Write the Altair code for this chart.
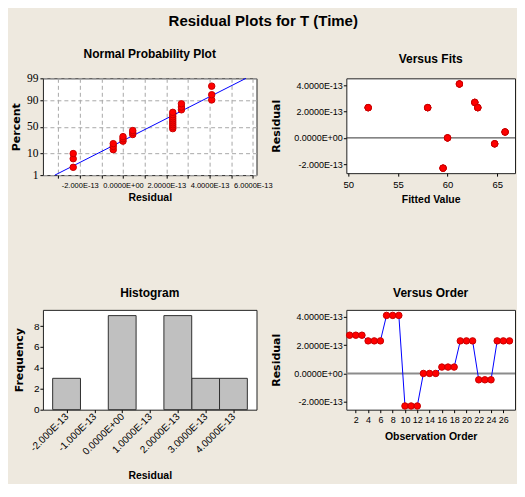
import altair as alt
import pandas as pd
from statistics import NormalDist

# ---------------- data ----------------
observation = list(range(1, 28))
residual = [2.7e-13, 2.7e-13, 2.7e-13, 2.3e-13, 2.3e-13, 2.3e-13,
            4.1e-13, 4.1e-13, 4.1e-13, -2.3e-13, -2.3e-13, -2.3e-13,
            0.0, 0.0, 0.0, 0.45e-13, 0.45e-13, 0.45e-13,
            2.3e-13, 2.3e-13, 2.3e-13, -0.45e-13, -0.45e-13, -0.45e-13,
            2.3e-13, 2.3e-13, 2.3e-13]
fitted = [62.75, 62.75, 62.75, 52.0, 52.0, 52.0,
          61.2, 61.2, 61.2, 59.55, 59.55, 59.55,
          60.0, 60.0, 60.0, 65.8, 65.8, 65.8,
          58.0, 58.0, 58.0, 64.75, 64.75, 64.75,
          63.05, 63.05, 63.05]

percent_ticks = [1, 10, 50, 90, 99]
np_grid_values = [-3e-13, -2e-13, -1e-13, 0.0, 1e-13, 2e-13, 3e-13, 4e-13, 5e-13, 6e-13]
np_grid_labels = ["", "-2.000E-13", "", "0.0000E+00", "", "2.0000E-13", "", "4.0000E-13", "", "6.0000E-13"]
res_tick_values = [-2e-13, 0.0, 2e-13, 4e-13]
res_tick_labels = ["-2.000E-13", "0.0000E+00", "2.0000E-13", "4.0000E-13"]
hist_tick_values = [-2e-13, -1e-13, 0.0, 1e-13, 2e-13, 3e-13, 4e-13]
hist_tick_labels = ["-2.000E-13", "-1.000E-13", "0.0000E+00", "1.0000E-13",
                    "2.0000E-13", "3.0000E-13", "4.0000E-13"]
fit_ticks = [50, 55, 60, 65]
order_ticks = [2, 4, 6, 8, 10, 12, 14, 16, 18, 20, 22, 24, 26]
freq_ticks = [0, 2, 4, 6, 8]

df = pd.DataFrame({"observation": observation, "residual": residual, "fitted": fitted})
zero_df = pd.DataFrame({"y": [0.0]})

# ---------------- style ----------------
BG = "#EEE9DF"
SANS = "Liberation Sans"
WIDE_B = "DejaVu Sans"
RED = "#FF0000"
RED_EDGE = "#C80000"
BLUE = "#0000FF"

nd = NormalDist()
z_ticks = [nd.inv_cdf(p / 100) for p in percent_ticks]
z_lo, z_hi = z_ticks[0], z_ticks[-1]


def js_array(lst):
    return "[" + ",".join("'" + s + "'" for s in lst) + "]"


def axis_common(**kw):
    base = dict(domain=False, tickColor="#000", tickSize=3, labelColor="#000",
                titleColor="#000", labelFont=SANS, titleFont=SANS,
                titleFontWeight="bold", grid=False, labelOverlap=False)
    base.update(kw)
    return alt.Axis(**base)


def ytitle_axis(**kw):
    return axis_common(titleFont=WIDE_B, titleFontSize=11, **kw)


def sub_title(text, offset):
    return alt.TitleParams(text, font=SANS, fontSize=12, fontWeight="bold",
                           anchor="middle", frame="group", offset=offset, color="#000")


# ---------------- Normal probability plot ----------------
np_x_scale = alt.Scale(domain=[-3.7e-13, 6.17e-13], nice=False, zero=False)
np_y_scale = alt.Scale(domain=[z_lo, z_hi], nice=False, zero=False)

np_x_axis = axis_common(values=np_grid_values,
                        labelExpr=js_array(np_grid_labels) + "[round(datum.value*1e13)+3]",
                        labelFontSize=7.5, labelPadding=3, titleFontSize=10.5, titlePadding=4,
                        grid=True, gridDash=[4, 3], gridColor="#A8A8A8", labelFlush=False)
np_y_axis = ytitle_axis(values=z_ticks,
                        labelExpr="format(cumulativeNormal(datum.value)*100, '.0f')",
                        labelFont="Liberation Serif", labelFontSize=11.5, labelPadding=2,
                        titlePadding=5, grid=True, gridDash=[4, 3], gridColor="#A8A8A8")
np_x = alt.X("residual:Q", scale=np_x_scale, axis=np_x_axis, title="Residual")
np_y = alt.Y("z:Q", scale=np_y_scale, axis=np_y_axis, title="Percent")

np_points = alt.Chart(df).transform_window(
    rank="row_number()", sort=[alt.SortField("residual")]
).transform_joinaggregate(n="count()").transform_calculate(
    z="quantileNormal((datum.rank - 0.3) / (datum.n + 0.4))"
).mark_circle(size=42, color=RED, stroke=RED_EDGE, strokeWidth=1, opacity=1).encode(
    x=np_x, y=np_y,
)

np_line = alt.Chart(df).transform_aggregate(
    m="mean(residual)", s="stdev(residual)"
).transform_calculate(
    zlo=f"quantileNormal({percent_ticks[0] / 100})",
    zhi=f"quantileNormal({percent_ticks[-1] / 100})",
).transform_calculate(
    xlo="datum.m + datum.zlo * datum.s",
    xhi="datum.m + datum.zhi * datum.s",
).mark_rule(color=BLUE, strokeWidth=1).encode(
    x=alt.X("xlo:Q", scale=np_x_scale, axis=np_x_axis, title="Residual"),
    x2="xhi:Q",
    y=alt.Y("zlo:Q", scale=np_y_scale, axis=np_y_axis, title="Percent"),
    y2="zhi:Q",
)

np_chart = alt.layer(np_line, np_points).properties(
    width=214, height=97, title=sub_title("Normal Probability Plot", 11))

# ---------------- Versus fits ----------------
res_label_expr = js_array(res_tick_labels) + "[round(datum.value*1e13/2)+1]"

fits_y_scale = alt.Scale(domain=[-2.68e-13, 4.53e-13], nice=False, zero=False)
fits_x_scale = alt.Scale(domain=[49.8, 66.8], nice=False, zero=False)
fits_y_axis = ytitle_axis(values=res_tick_values, labelExpr=res_label_expr, labelFontSize=9,
                          labelPadding=1, titlePadding=12)

fits_points = alt.Chart(df).mark_circle(size=42, color=RED, stroke=RED_EDGE, strokeWidth=1, opacity=1).encode(
    x=alt.X("fitted:Q", scale=fits_x_scale,
            axis=axis_common(values=fit_ticks, labelFontSize=9.5, titleFontSize=10.5, titlePadding=6,
                             labelPadding=3),
            title="Fitted Value"),
    y=alt.Y("residual:Q", scale=fits_y_scale, axis=fits_y_axis, title="Residual"),
)
fits_zero = alt.Chart(zero_df).mark_rule(color="#333", strokeWidth=1).encode(
    y=alt.Y("y:Q", scale=fits_y_scale, axis=fits_y_axis, title="Residual"))

fits_chart = alt.layer(fits_zero, fits_points).properties(
    width=169, height=95, title=sub_title("Versus Fits", 12))

# ---------------- Histogram ----------------
hist_x_scale = alt.Scale(domain=[-2.85e-13, 4.83e-13], nice=False, zero=False)
hist = alt.Chart(df).transform_calculate(
    center="round(datum.residual * 1e13) * 1e-13"
).transform_aggregate(count="count()", groupby=["center"]).transform_calculate(
    lo="datum.center - 0.5e-13", hi="datum.center + 0.5e-13"
).mark_bar(color="#C0C0C0", stroke="#303030", strokeWidth=1).encode(
    x=alt.X("lo:Q", scale=hist_x_scale,
            axis=axis_common(values=hist_tick_values,
                             labelExpr=js_array(hist_tick_labels) + "[round(datum.value*1e13)+2]",
                             labelAngle=315, labelAlign="right", labelBaseline="middle",
                             labelFontSize=10, labelPadding=2, titleFontSize=10.5, titlePadding=14,
                             labelFlush=False),
            title="Residual"),
    x2="hi:Q",
    y=alt.Y("count:Q", scale=alt.Scale(domain=[0, 9.55], nice=False),
            axis=ytitle_axis(values=freq_ticks, labelFontSize=10, labelPadding=1, titlePadding=9),
            title="Frequency"),
    y2=alt.datum(0),
).properties(width=214, height=100, title=sub_title("Histogram", 10))

# ---------------- Versus order ----------------
order_y_scale = alt.Scale(domain=[-2.56e-13, 4.49e-13], nice=False, zero=False)
order_x_scale = alt.Scale(domain=[0.46, 27.9], nice=False, zero=False)
order_y_axis = ytitle_axis(values=res_tick_values, labelExpr=res_label_expr, labelFontSize=9,
                           labelPadding=1, titlePadding=12)
order_x = alt.X("observation:Q", scale=order_x_scale,
                axis=axis_common(values=order_ticks, labelFontSize=9, titleFontSize=10.5,
                                 titlePadding=7, labelPadding=3),
                title="Observation Order")
order_y = alt.Y("residual:Q", scale=order_y_scale, axis=order_y_axis, title="Residual")
order_zero = alt.Chart(zero_df).mark_rule(color="#8C8C8C", strokeWidth=2).encode(
    y=alt.Y("y:Q", scale=order_y_scale, axis=order_y_axis, title="Residual"))
order_line = alt.Chart(df).mark_line(color=BLUE, strokeWidth=1).encode(x=order_x, y=order_y)
order_pts = alt.Chart(df).mark_circle(size=42, color=RED, stroke=RED_EDGE, strokeWidth=1, opacity=1).encode(
    x=order_x, y=order_y)
order_chart = alt.layer(order_zero, order_line, order_pts).properties(
    width=169, height=100, title=sub_title("Versus Order", 10))

# ---------------- assemble ----------------
chart = alt.concat(
    np_chart, fits_chart, hist, order_chart,
    columns=2,
    spacing={"row": 135, "column": 90},
    bounds="flush",
    align="each",
    title=alt.TitleParams("Residual Plots for T (Time)", font=SANS, fontSize=15,
                          fontWeight="bold", anchor="middle", offset=19, color="#000"),
).properties(
    background=BG,
    padding={"left": 2, "top": 5, "right": 0, "bottom": 2},
).configure_view(
    fill="#FFFFFF", stroke="#222222", strokeWidth=1
)

chart.save("out.html", embed_options={"renderer": "svg", "actions": False})
